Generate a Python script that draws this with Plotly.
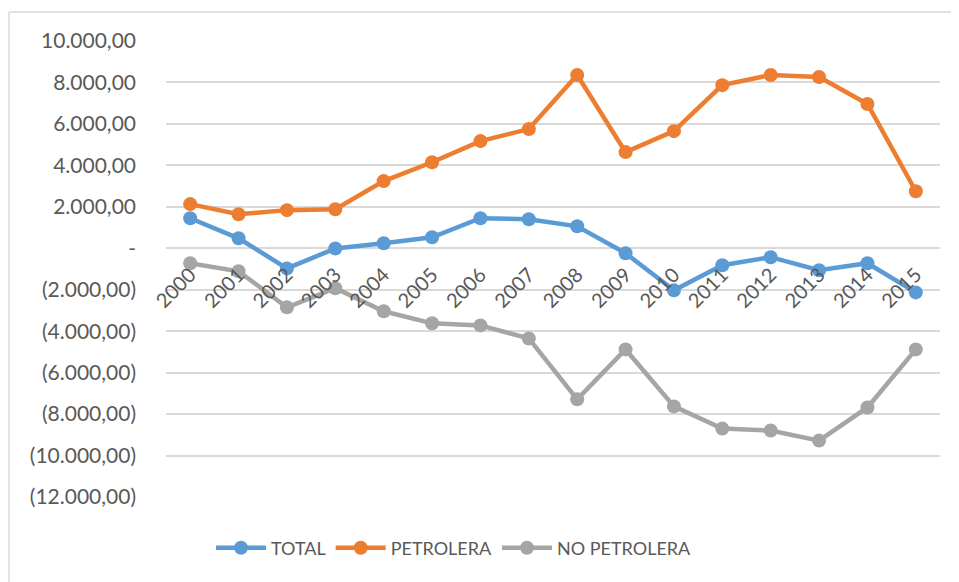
import plotly.graph_objects as go

# años
years = [str(y) for y in range(2000, 2016)]

# series
total = [1450, 480, -970, -10, 240, 530, 1450, 1400, 1060, -240,
         -2030, -820, -430, -1060, -720, -2130]
petrolera = [2130, 1640, 1840, 1880, 3240, 4150, 5170, 5750, 8360, 4640,
             5650, 7870, 8360, 8260, 6960, 2750]
no_petrolera = [-720, -1110, -2850, -1930, -3040, -3620, -3720, -4350, -7290, -4880,
                -7630, -8700, -8790, -9280, -7680, -4880]

# eje y
y_ticks = [10000, 8000, 6000, 4000, 2000, 0, -2000, -4000, -6000, -8000, -10000, -12000]
y_labels = ["10.000,00", "8.000,00", "6.000,00", "4.000,00", "2.000,00", "-",
            "(2.000,00)", "(4.000,00)", "(6.000,00)", "(8.000,00)", "(10.000,00)", "(12.000,00)"]

series = [
    ("TOTAL", total, "#5B9BD5"),
    ("PETROLERA", petrolera, "#ED7D31"),
    ("NO PETROLERA", no_petrolera, "#A5A5A5"),
]

fig = go.Figure()
for name, vals, col in series:
    fig.add_trace(go.Scatter(
        x=years, y=vals, name=name, mode="lines+markers",
        line=dict(color=col, width=4.5),
        marker=dict(color=col, size=14),
    ))

txt = "#595959"
font = "Lato, 'Open Sans', sans-serif"

# la página añade 8 px de margen al cuerpo
OFF = 8
W, H = 959, 582
L, T = 166 - OFF, 41 - OFF
R = W - (940 - OFF)
B = H - (497 - OFF)
pw, ph = W - L - R, H - T - B

def px_x(p):
    return (p - OFF - L) / pw

def px_y(p):
    return (H - B - (p - OFF)) / ph

fig.update_layout(
    width=W, height=H,
    margin=dict(l=L, r=R, t=T, b=B, autoexpand=False),
    plot_bgcolor="white", paper_bgcolor="white",
    font=dict(family=font, size=20, color=txt),
    showlegend=True,
    legend=dict(orientation="h", xref="container", x=(454 - OFF) / W, xanchor="center",
                yref="container", y=1 - (548 - OFF) / H, yanchor="middle",
                font=dict(size=18, color=txt), itemwidth=50,
                traceorder="normal"),
    xaxis=dict(
        type="category", tickangle=-45, showgrid=False, showline=False,
        ticks="", anchor="free", position=12 / 22, automargin=False,
        tickfont=dict(size=20, color=txt), range=[-0.5, 15.5],
        ticklabelstandoff=10,
    ),
    yaxis=dict(
        range=[-12000, 10000], tickvals=y_ticks, ticktext=y_labels,
        showgrid=True, gridcolor="#D9D9D9", gridwidth=1.5, zeroline=False,
        tickfont=dict(size=21, color=txt), ticks="", ticklabelstandoff=29,
        automargin=False,
    ),
    shapes=[
        dict(type="line", xref="paper", yref="paper",
             x0=px_x(9), x1=px_x(970), y0=px_y(12), y1=px_y(12),
             line=dict(color="#D9D9D9", width=1.5)),
        dict(type="line", xref="paper", yref="paper",
             x0=px_x(9), x1=px_x(9), y0=px_y(12), y1=px_y(600),
             line=dict(color="#D9D9D9", width=1.5)),
    ],
)

fig.write_html("out.html")
